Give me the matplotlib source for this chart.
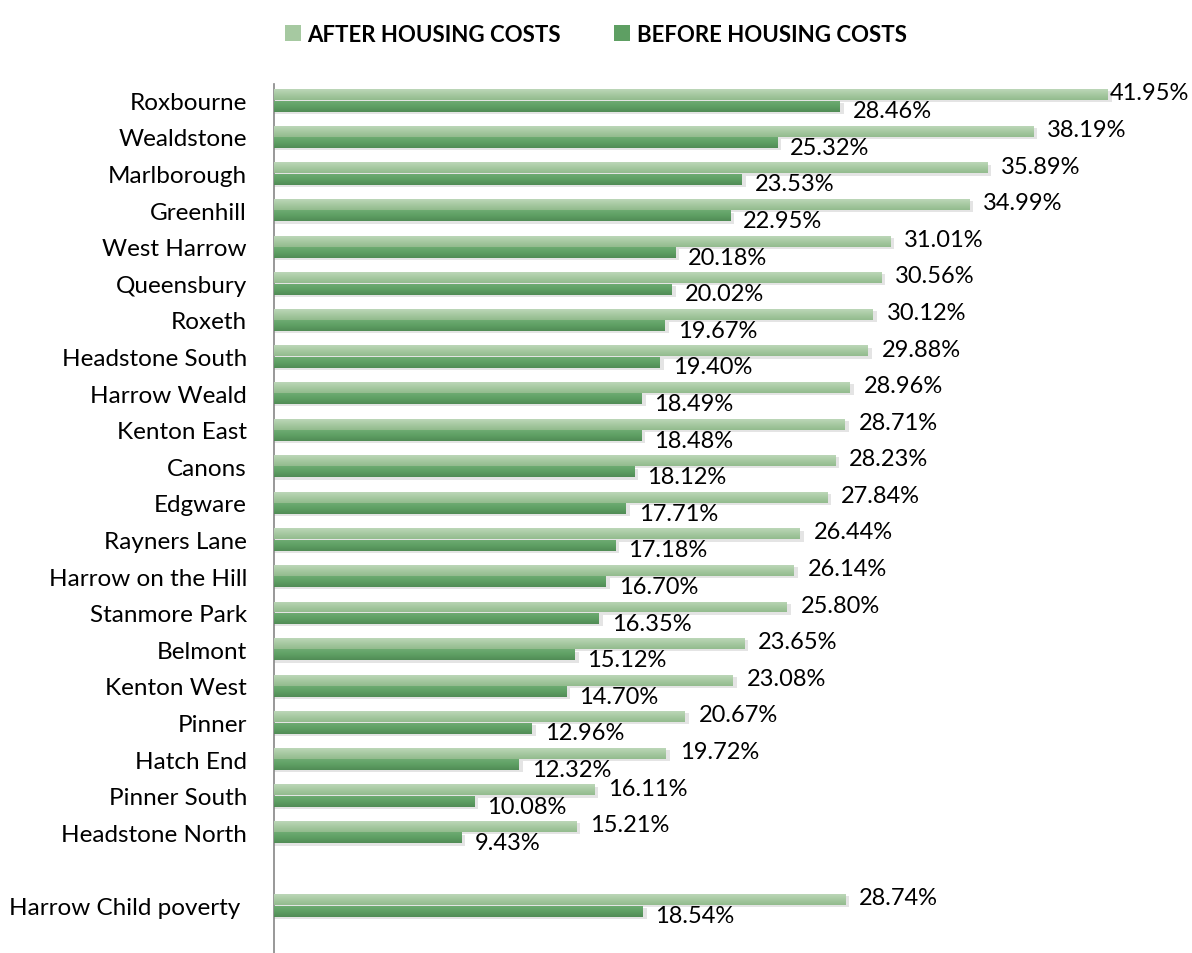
import numpy as np
import matplotlib.pyplot as plt
from matplotlib.patches import Patch
from matplotlib.colors import LinearSegmentedColormap

plt.rcParams['font.family'] = ['Lato', 'DejaVu Sans']

# 数据
wards = ['Roxbourne', 'Wealdstone', 'Marlborough', 'Greenhill', 'West Harrow',
         'Queensbury', 'Roxeth', 'Headstone South', 'Harrow Weald', 'Kenton East',
         'Canons', 'Edgware', 'Rayners Lane', 'Harrow on the Hill', 'Stanmore Park',
         'Belmont', 'Kenton West', 'Pinner', 'Hatch End', 'Pinner South',
         'Headstone North', '', 'Harrow Child poverty ']
after_hc = [41.95, 38.19, 35.89, 34.99, 31.01, 30.56, 30.12, 29.88, 28.96, 28.71,
            28.23, 27.84, 26.44, 26.14, 25.80, 23.65, 23.08, 20.67, 19.72, 16.11,
            15.21, np.nan, 28.74]
before_hc = [28.46, 25.32, 23.53, 22.95, 20.18, 20.02, 19.67, 19.40, 18.49, 18.48,
             18.12, 17.71, 17.18, 16.70, 16.35, 15.12, 14.70, 12.96, 12.32, 10.08,
             9.43, np.nan, 18.54]

light = '#A6C9A1'
dark = '#5E9F63'

fig = plt.figure(figsize=(11.92, 9.54), dpi=100)
ax = fig.add_axes([0.2299, 0.0, 0.767, 0.911])

y = np.arange(len(wards))
h = 0.30
off = 0.155

cm_light = LinearSegmentedColormap.from_list('l', ['#BCD7B8', '#A6C9A1', '#93BB8E'])
cm_dark = LinearSegmentedColormap.from_list('d', ['#6EAB72', '#5E9F63', '#518C56'])
grad = np.linspace(0, 1, 50).reshape(-1, 1)


def draw_bars(vals, ypos, color, cmap):
    vals = np.array(vals, dtype=float)
    ok = ~np.isnan(vals)
    # 阴影
    ax.barh(ypos[ok] + 0.06, vals[ok] + 0.2, height=h, color='#e4e4e4', zorder=1)
    bars = ax.barh(ypos[ok], vals[ok], height=h, color=color, zorder=2)
    for b in bars:
        x0, y0 = b.get_x(), b.get_y()
        im = ax.imshow(grad, cmap=cmap, aspect='auto', zorder=3,
                       extent=[x0, x0 + b.get_width(), y0 + b.get_height(), y0])
        im.set_clip_path(b)
    return bars


draw_bars(after_hc, y - off, light, cm_light)
draw_bars(before_hc, y + off, dark, cm_dark)

for i, (a, b) in enumerate(zip(after_hc, before_hc)):
    if np.isnan(a):
        continue
    ax.text(min(a + 0.7, 41.95 + 0.1), y[i] - off - 0.05, f'{a:.2f}%',
            va='center', ha='left', fontsize=17, clip_on=False)
    ax.text(b + 0.65, y[i] + off + 0.13, f'{b:.2f}%',
            va='center', ha='left', fontsize=17, clip_on=False)

ax.set_xlim(0, 46)
ax.set_ylim(23.3, -0.45)
ax.set_yticks(y)
ax.set_yticklabels(wards, fontsize=17.5)
ax.tick_params(axis='y', length=0, pad=19.5)
ax.set_xticks([])
for s in ['top', 'right', 'bottom']:
    ax.spines[s].set_visible(False)
ax.spines['left'].set_color('#868686')
ax.spines['left'].set_linewidth(1.2)

handles = [Patch(facecolor=light, label='AFTER HOUSING COSTS'),
           Patch(facecolor=dark, label='BEFORE HOUSING COSTS')]
fig.legend(handles=handles, loc='upper center', bbox_to_anchor=(0.5, 0.995), ncol=2,
           frameon=False, prop={'weight': 'bold', 'size': 16}, handlelength=0.7,
           handleheight=0.7, handletextpad=0.3, columnspacing=2.4)

fig.savefig('out.png', dpi=100)
